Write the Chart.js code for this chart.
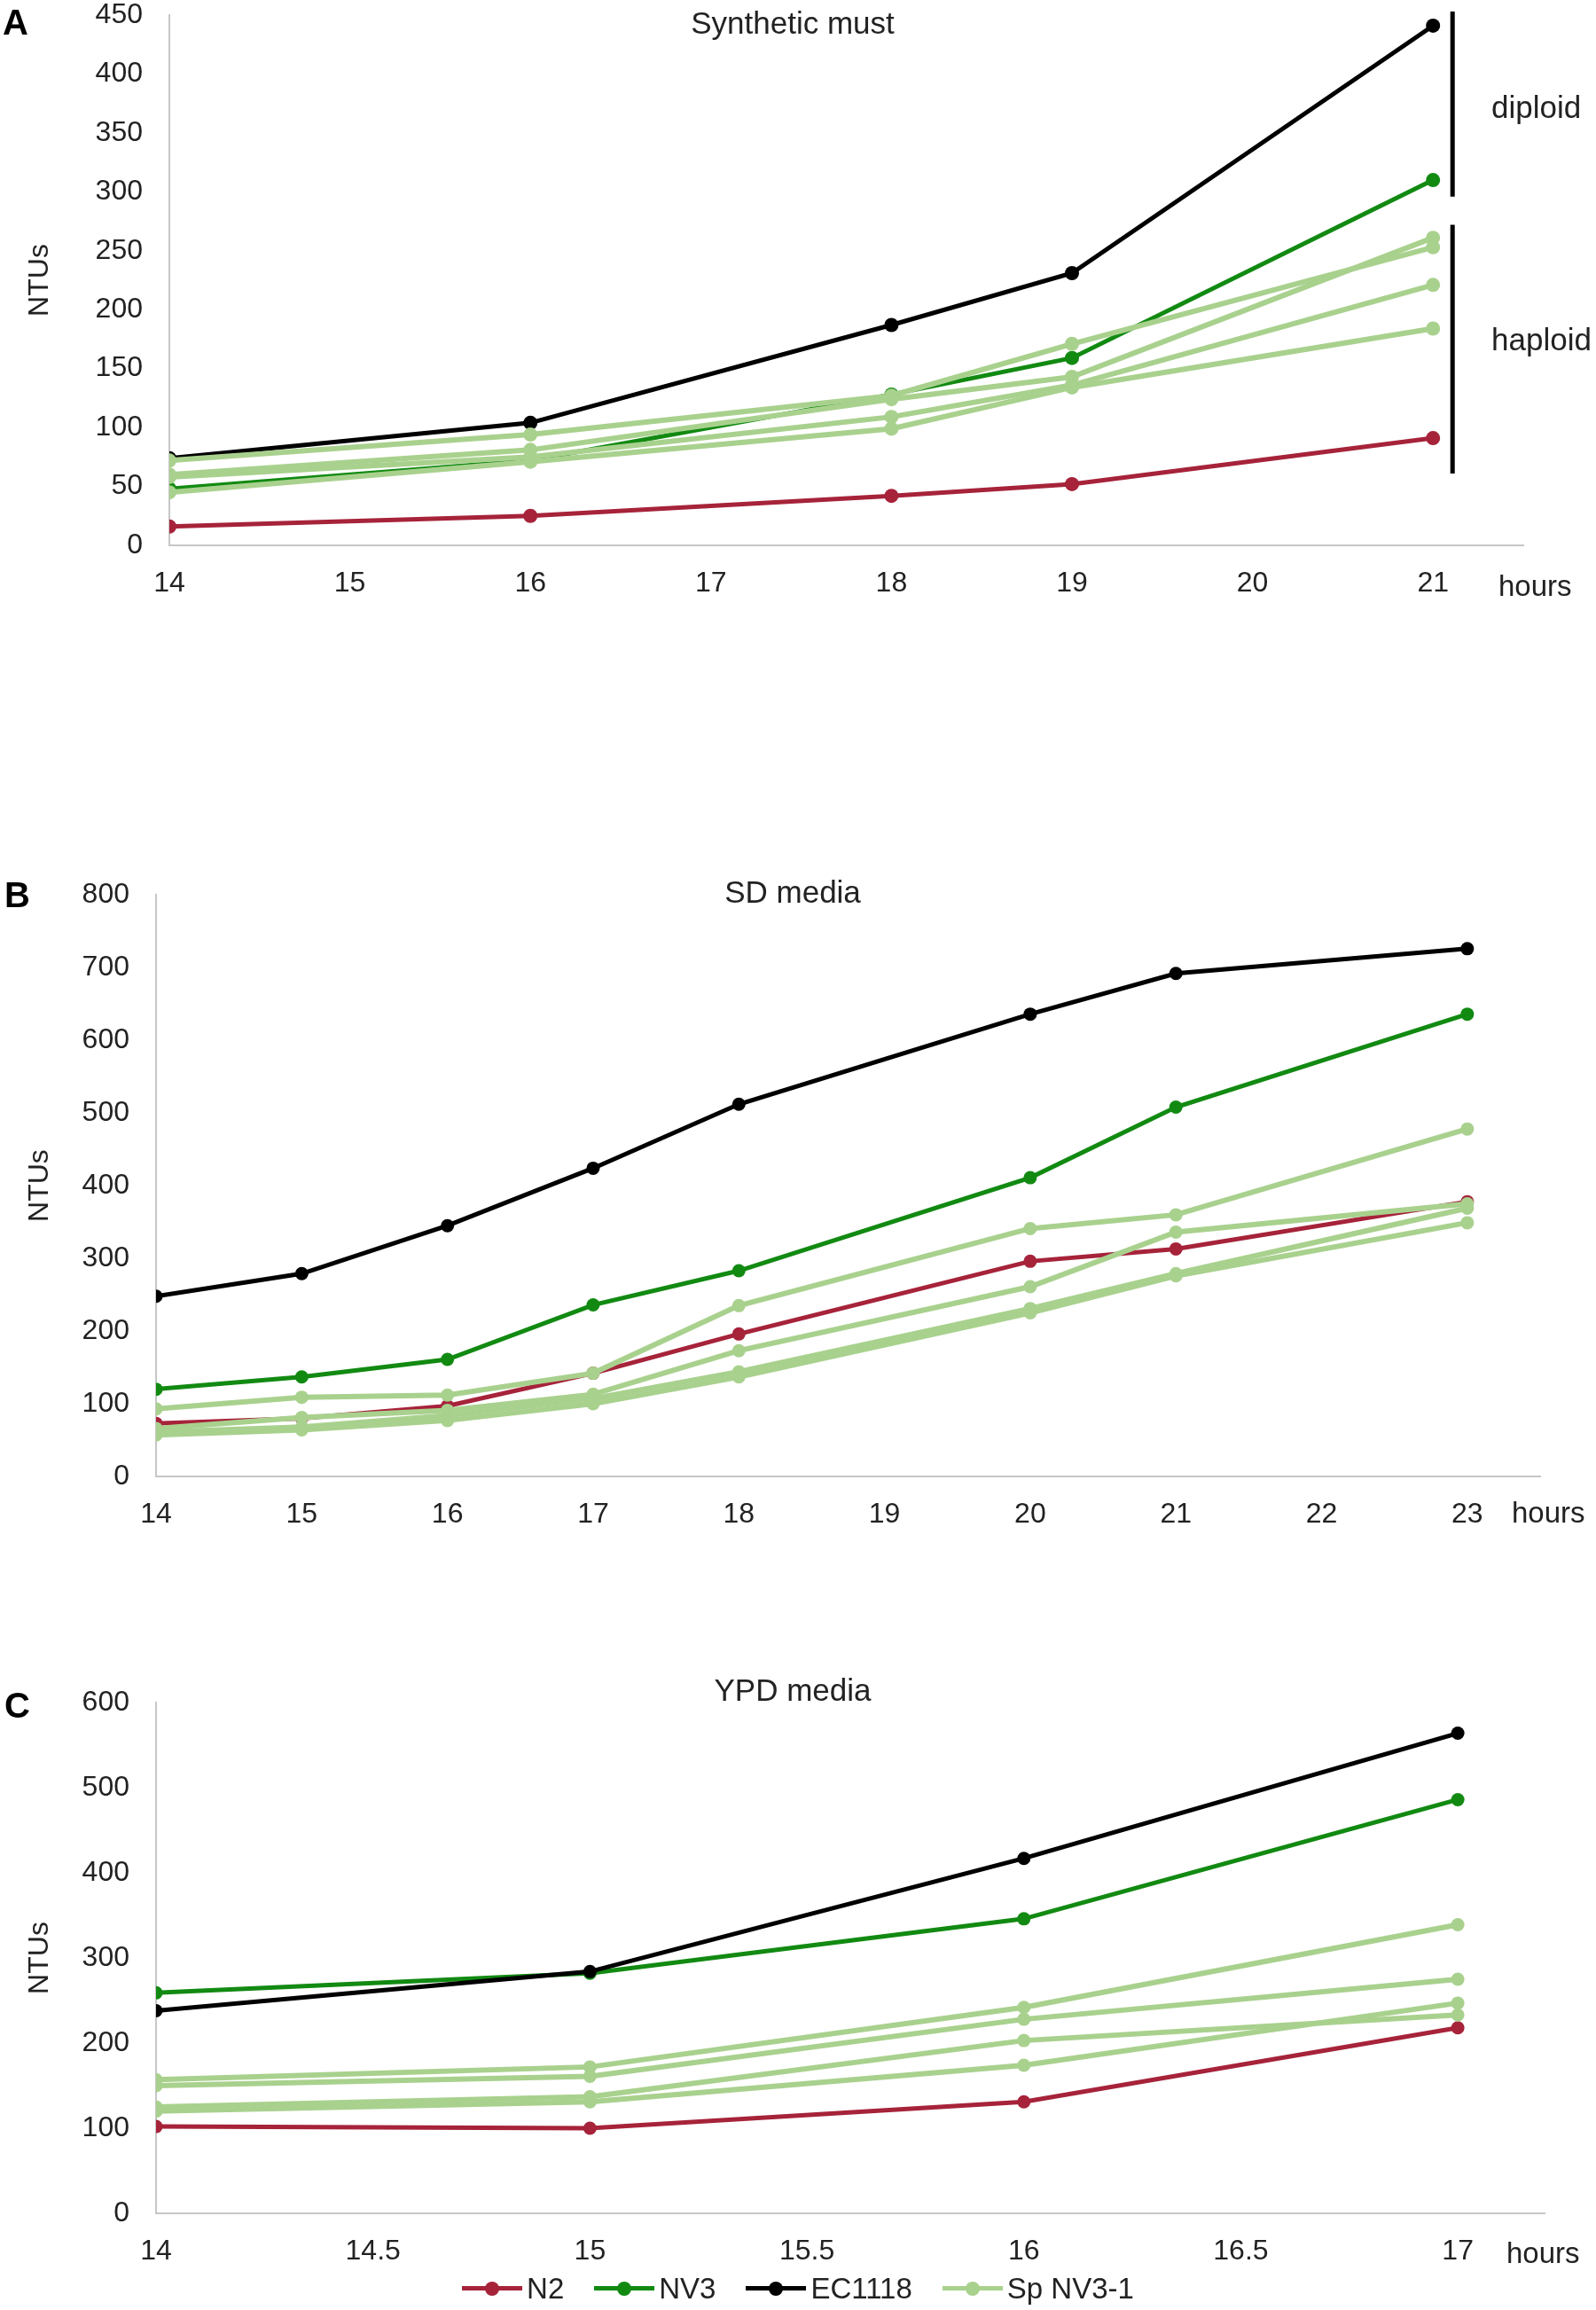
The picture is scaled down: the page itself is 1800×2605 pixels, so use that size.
<!DOCTYPE html>
<html lang="en">
<head>
<meta charset="UTF-8">
<title>NTUs – Synthetic must, SD media, YPD media</title>
<script src="https://cdn.jsdelivr.net/npm/chart.js"></script>
<style>
body { margin: 0; background: #fff; font-family: "Liberation Sans", Arial, sans-serif; }
#page { position: relative; width: 1800px; height: 2605px; overflow: hidden; background: #fff; }
canvas { position: absolute; left: 0; }
.txt { position: absolute; font-size: 33px; color: #222; white-space: nowrap; line-height: 1; transform: translateY(-50%); }
.big { font-size: 35px; }
.title { transform: translate(-50%, -50%); }
.letter { position: absolute; font-size: 40px; font-weight: bold; color: #000; line-height: 1; transform: translateY(-50%); }
#legend { position: absolute; left: 0; width: 1800px; top: 2581px; transform: translateY(-50%);
  display: flex; justify-content: center; align-items: center; font-size: 33px; color: #222; }
.item { display: flex; align-items: center; margin: 0 17px; }
.mk { position: relative; width: 68px; height: 20px; margin-right: 5px; }
.mk .ln { position: absolute; left: 0; right: 0; top: 7px; height: 5px; }
.mk .dot { position: absolute; left: 26px; top: 2px; width: 16px; height: 16px; border-radius: 50%; }
</style>
</head>
<body>
<div id="page">
  <canvas id="chartA" width="1800" height="740" style="top:-40px"></canvas>
  <canvas id="chartB" width="1800" height="790" style="top:960px"></canvas>
  <canvas id="chartC" width="1800" height="700" style="top:1870px"></canvas>

  <div class="letter" style="left:3px; top:25px">A</div>
  <div class="letter" style="left:5px; top:1009px">B</div>
  <div class="letter" style="left:5px; top:1923px">C</div>

  <div class="txt big title" style="left:894px; top:25px">Synthetic must</div>
  <div class="txt big title" style="left:894px; top:1005px">SD media</div>
  <div class="txt big title" style="left:894px; top:1905px">YPD media</div>

  <div class="txt" style="left:1690px; top:660px">hours</div>
  <div class="txt" style="left:1705px; top:1705px">hours</div>
  <div class="txt" style="left:1699px; top:2540px">hours</div>

  <div class="txt big" style="left:1682px; top:120px">diploid</div>
  <div class="txt big" style="left:1682px; top:382px">haploid</div>

  <div id="legend"></div>
</div>

<script>
// ---- data (NTUs) ----
const FONT = '"Liberation Sans", Arial, sans-serif';

// A: synthetic must
const hoursA = [14, 16, 18, 19, 21];
const n2A    = [16, 25, 42, 52, 91];
const nv3A   = [48, 72, 128, 159, 310];
const ecA    = [74, 104, 187, 231, 441];
const spA1   = [72, 94, 127, 171, 253];
const spA2   = [60, 81, 124, 143, 261];
const spA3   = [58, 75, 109, 136, 221];
const spA4   = [45, 71, 99, 134, 184];

// B: SD media
const hoursB = [14, 15, 16, 17, 18, 20, 21, 23];
const n2B    = [73, 80, 97, 142, 196, 296, 313, 378];
const nv3B   = [120, 137, 161, 236, 283, 411, 508, 636];
const ecB    = [248, 279, 345, 424, 512, 636, 692, 726];
const spB1   = [93, 109, 112, 142, 235, 341, 360, 478];
const spB2   = [66, 81, 91, 113, 173, 261, 336, 375];
const spB3   = [61, 68, 84, 107, 144, 231, 279, 369];
const spB4   = [57, 64, 77, 100, 137, 225, 276, 349];

// C: YPD media
const hoursC = [14, 15, 16, 17];
const n2C    = [102, 100, 131, 218];
const nv3C   = [259, 282, 346, 486];
const ecC    = [238, 284, 417, 564];
const spC1   = [157, 172, 242, 339];
const spC2   = [150, 161, 228, 275];
const spC3   = [125, 137, 203, 233];
const spC4   = [120, 131, 174, 247];

const seriesNames  = ['N2', 'NV3', 'EC1118', 'Sp NV3-1'];
const seriesColors = ['#a6233a', '#128a12', '#000000', '#a9d18e'];

// ploidy brackets on panel A (NTU ranges)
const ploidyRanges = [[296, 453], [61, 272]];

function pts(xs, ys) {
  return xs.map((x, i) => ({ x: x, y: ys[i] }));
}

function line(k, xs, ys, r) {
  return {
    label: seriesNames[k],
    data: pts(xs, ys),
    borderColor: seriesColors[k],
    backgroundColor: seriesColors[k],
    borderWidth: k === 3 ? 6 : 5,
    pointRadius: r,
    pointHoverRadius: r,
    pointBorderWidth: 0,
    tension: 0,
    // light green on top, red at the bottom (Excel order)
    order: 4 - k
  };
}

function panelSets(xs, n2, nv3, ec, sps, r) {
  const out = [line(0, xs, n2, r), line(1, xs, nv3, r), line(2, xs, ec, r)];
  sps.forEach(s => out.push(line(3, xs, s, r)));
  return out;
}

function bracketPlugin(ranges, atX) {
  return {
    id: 'brackets',
    afterDatasetsDraw(chart) {
      const ctx = chart.ctx, xs = chart.scales.x, ys = chart.scales.y;
      const x = xs.getPixelForValue(atX) + 22;
      ctx.save();
      ctx.strokeStyle = '#000';
      ctx.lineWidth = 5;
      ranges.forEach(r => {
        ctx.beginPath();
        ctx.moveTo(x, ys.getPixelForValue(r[1]));
        ctx.lineTo(x, ys.getPixelForValue(r[0]));
        ctx.stroke();
      });
      ctx.restore();
    }
  };
}

function options(p) {
  const tickFont = { size: 32, family: FONT };
  return {
    responsive: false,
    animation: false,
    devicePixelRatio: 1,
    layout: { padding: { top: p.padTop, right: p.padRight, left: 0, bottom: 0 } },
    plugins: { legend: { display: false }, tooltip: { enabled: false } },
    scales: {
      x: {
        type: 'linear', min: p.xMin, max: p.xMax,
        grid: { display: false, drawTicks: false },
        border: { display: true, color: '#c6c6c6', width: 2 },
        ticks: { stepSize: p.xStep, includeBounds: false, padding: 24, color: '#222', font: tickFont,
                 maxRotation: 0, autoSkip: false, callback: v => String(v) },
        afterBuildTicks: s => { s.ticks = s.ticks.filter(t => t.value <= p.xLast + 1e-9); },
        afterFit: s => { s.height = p.xAxisH; }
      },
      y: {
        min: 0, max: p.yMax,
        grid: { display: false, drawTicks: false },
        border: { display: true, color: '#c6c6c6', width: 2 },
        ticks: { stepSize: p.yStep, padding: 30, color: '#222', font: tickFont },
        title: { display: true, text: 'NTUs', color: '#222', font: tickFont, padding: { top: 26, bottom: 0 } },
        afterFit: s => { s.width = p.yAxisW; }
      }
    }
  };
}

new Chart(document.getElementById('chartA'), {
  type: 'line',
  data: { datasets: panelSets(hoursA, n2A, nv3A, ecA, [spA1, spA2, spA3, spA4], 8) },
  options: options({ padTop: 57, padRight: 82, xMin: 14, xMax: 21.5, xLast: 21, xStep: 1,
                     xAxisH: 85, yMax: 450, yStep: 50, yAxisW: 191 }),
  plugins: [bracketPlugin(ploidyRanges, 21)]
});

new Chart(document.getElementById('chartB'), {
  type: 'line',
  data: { datasets: panelSets(hoursB, n2B, nv3B, ecB, [spB1, spB2, spB3, spB4], 7.5) },
  options: options({ padTop: 49, padRight: 63, xMin: 14, xMax: 23.5, xLast: 23, xStep: 1,
                     xAxisH: 85, yMax: 800, yStep: 100, yAxisW: 176 })
});

new Chart(document.getElementById('chartC'), {
  type: 'line',
  data: { datasets: panelSets(hoursC, n2C, nv3C, ecC, [spC1, spC2, spC3, spC4], 7.5) },
  options: options({ padTop: 50, padRight: 58, xMin: 14, xMax: 17.2, xLast: 17, xStep: 0.5,
                     xAxisH: 74, yMax: 600, yStep: 100, yAxisW: 176 })
});

// legend: one entry per strain, line with a dot like the original
const legend = document.getElementById('legend');
seriesNames.forEach((name, k) => {
  const item = document.createElement('div');
  item.className = 'item';
  item.innerHTML = '<span class="mk"><span class="ln" style="background:' + seriesColors[k] +
    '"></span><span class="dot" style="background:' + seriesColors[k] + '"></span></span><span>' + name + '</span>';
  legend.appendChild(item);
});
</script>
</body>
</html>
